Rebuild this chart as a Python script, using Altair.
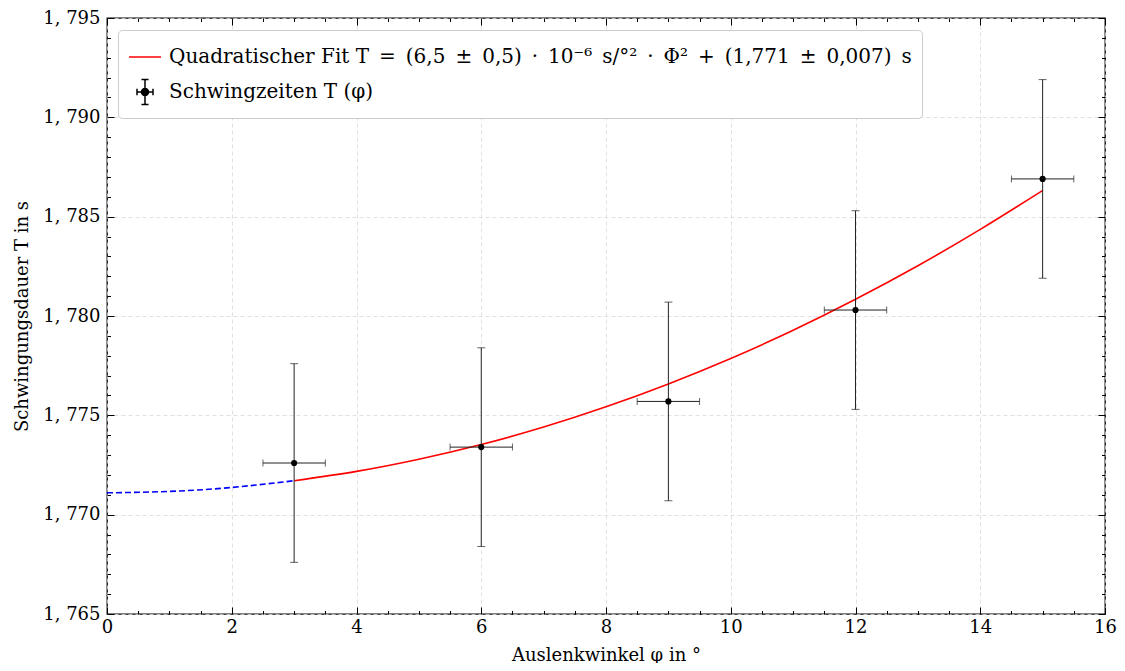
import altair as alt
import pandas as pd

# ---- data ----
phi = [3, 6, 9, 12, 15]
T = [1.7726, 1.7734, 1.7757, 1.7803, 1.7869]
T_err = [0.005, 0.005, 0.005, 0.005, 0.005]
phi_err = [0.5, 0.5, 0.5, 0.5, 0.5]

fit_phi = [0, 1, 2, 3, 4, 5, 6, 7, 8, 9, 10, 11, 12, 13, 14, 15]
fit_T = [1.77110, 1.77117, 1.77137, 1.77171, 1.77218, 1.77279, 1.77353, 1.77441,
         1.77543, 1.77658, 1.77786, 1.77928, 1.78084, 1.78253, 1.78436, 1.78632]

x_major = [0, 2, 4, 6, 8, 10, 12, 14, 16]
x_minor = [0, 0.5, 1, 1.5, 2, 2.5, 3, 3.5, 4, 4.5, 5, 5.5, 6, 6.5, 7, 7.5, 8,
           8.5, 9, 9.5, 10, 10.5, 11, 11.5, 12, 12.5, 13, 13.5, 14, 14.5, 15, 15.5, 16]
y_major = [1.765, 1.770, 1.775, 1.780, 1.785, 1.790, 1.795]
y_minor = [1.765, 1.766, 1.767, 1.768, 1.769, 1.770, 1.771, 1.772, 1.773, 1.774,
           1.775, 1.776, 1.777, 1.778, 1.779, 1.780, 1.781, 1.782, 1.783, 1.784,
           1.785, 1.786, 1.787, 1.788, 1.789, 1.790, 1.791, 1.792, 1.793, 1.794, 1.795]

legend_labels = [
    "Quadratischer Fit T\u2002=\u2002(6,5\u2002±\u20020,5)\u2002·\u200210⁻⁶\u2002s/°²\u2002·\u2002Φ²\u2002+\u2002(1,771\u2002±\u20020,007)\u2002s",
    "Schwingzeiten T (φ)",
]
legend_colors = ["red", "black"]
line_path = "M-1,0L1,0"
err_path = ("M-0.5,0L0.5,0M0,-0.78L0,0.78M-0.5,-0.2L-0.5,0.2M0.5,-0.2L0.5,0.2"
            "M-0.22,-0.78L0.22,-0.78M-0.22,0.78L0.22,0.78"
            "M0.22,0A0.22,0.22,0,1,1,-0.22,0A0.22,0.22,0,1,1,0.22,0Z")

FONT = "DejaVu Serif"
FS = 18
W, H = 998, 596

points = pd.DataFrame({"phi": phi, "T": T, "T_err": T_err, "phi_err": phi_err})
fit = pd.DataFrame({"phi": fit_phi, "T": fit_T})

xscale = alt.Scale(domain=[0, 16], nice=False, zero=False)
yscale = alt.Scale(domain=[1.765, 1.795], nice=False, zero=False)

x_tick_size = {"condition": {"test": "datum.value % 2 == 0", "value": 7}, "value": 3.5}
y_tick_size = {"condition": {"test": "abs(datum.value*200 - round(datum.value*200)) < 0.01", "value": 7}, "value": 3.5}

def tick_axis(orient, values, size, offset):
    return alt.Axis(orient=orient, values=values, offset=offset, domain=False, grid=False,
                    labels=False, ticks=True, tickColor="black", tickWidth=1,
                    tickSize=size, title=None)

X1 = alt.Axis(orient="bottom", values=x_major, domain=False, ticks=False, grid=True,
              gridColor="#d8d8d8", gridDash=[4, 3], gridWidth=0.8,
              labelFont=FONT, labelFontSize=FS, labelColor="black", labelPadding=4,
              labelFlush=False, labelOverlap=False,
              title="Auslenkwinkel φ in °", titleFont=FONT, titleFontSize=FS,
              titleFontWeight="normal", titleColor="black",
              titleBaseline="alphabetic", titleY=46)
Y1 = alt.Axis(orient="left", values=y_major, domain=False, ticks=False, grid=True,
              gridColor="#d8d8d8", gridDash=[4, 3], gridWidth=0.8,
              labelExpr="replace(format(datum.value, '.3f'), '.', ', ')",
              labelFont=FONT, labelFontSize=FS, labelColor="black", labelPadding=7,
              labelFlush=False, labelOverlap=False,
              title="Schwingungsdauer T in s", titleFont=FONT, titleFontSize=FS,
              titleFontWeight="normal", titleColor="black",
              titleBaseline="alphabetic", titleX=-80)

X2 = tick_axis("top", x_minor, x_tick_size, -H)
X3 = tick_axis("bottom", x_minor, x_tick_size, -H)
Y2 = tick_axis("right", y_minor, y_tick_size, -W)
Y3 = tick_axis("left", y_minor, y_tick_size, -W)

blue = alt.Chart(fit).transform_filter("datum.phi <= 3").mark_line(
    color="blue", strokeWidth=1.6, strokeDash=[6, 3], interpolate="natural"
).encode(
    x=alt.X("phi:Q", scale=xscale, axis=X1),
    y=alt.Y("T:Q", scale=yscale, axis=Y1),
)

red = alt.Chart(fit).transform_filter("datum.phi >= 3").mark_line(
    color="red", strokeWidth=1.6, interpolate="natural"
).encode(
    x=alt.X("phi:Q", scale=xscale, axis=X2),
    y=alt.Y("T:Q", scale=yscale, axis=Y2),
)

yerr = alt.Chart(points).transform_calculate(
    lo="datum.T - datum.T_err", hi="datum.T + datum.T_err"
).mark_rule(color="#222222", strokeWidth=1).encode(
    x=alt.X("phi:Q", scale=xscale, axis=X3),
    y=alt.Y("lo:Q", scale=yscale, axis=Y3),
    y2="hi:Q",
)

xerr = alt.Chart(points).transform_calculate(
    xlo="datum.phi - datum.phi_err", xhi="datum.phi + datum.phi_err"
).mark_rule(color="#222222", strokeWidth=1).encode(
    x=alt.X("xlo:Q", scale=xscale, axis=None),
    x2="xhi:Q",
    y=alt.Y("T:Q", scale=yscale, axis=None),
)

ycaps = alt.Chart(points).transform_calculate(
    lo="datum.T - datum.T_err", hi="datum.T + datum.T_err"
).transform_fold(["lo", "hi"], as_=["k", "v"]).mark_tick(
    orient="horizontal", size=8, thickness=1, color="#222222"
).encode(
    x=alt.X("phi:Q", scale=xscale, axis=None),
    y=alt.Y("v:Q", scale=yscale, axis=None),
)

xcaps = alt.Chart(points).transform_calculate(
    xlo="datum.phi - datum.phi_err", xhi="datum.phi + datum.phi_err"
).transform_fold(["xlo", "xhi"], as_=["k", "v"]).mark_tick(
    orient="vertical", size=7, thickness=1, color="#222222"
).encode(
    x=alt.X("v:Q", scale=xscale, axis=None),
    y=alt.Y("T:Q", scale=yscale, axis=None),
)

dots = alt.Chart(points).mark_circle(size=38, color="black", opacity=1).encode(
    x=alt.X("phi:Q", scale=xscale, axis=None),
    y=alt.Y("T:Q", scale=yscale, axis=None),
)

LEG = alt.Legend(title=None, orient="none", legendX=11, legendY=12, direction="vertical",
                 symbolSize=1024, symbolStrokeWidth=1.5, symbolOpacity=1,
                 labelFont=FONT, labelFontSize=20, labelColor="black", labelLimit=1500,
                 labelOffset=7, rowPadding=8, padding=10, strokeColor="#cccccc",
                 fillColor="white", cornerRadius=4)

legend_layer = alt.Chart(pd.DataFrame({"label": legend_labels})).mark_point(
    opacity=0, filled=False, fill="black"
).encode(
    x=alt.value(0), y=alt.value(0),
    color=alt.Color("label:N", scale=alt.Scale(domain=legend_labels, range=legend_colors), legend=LEG),
    shape=alt.Shape("label:N", scale=alt.Scale(domain=legend_labels, range=[line_path, err_path]), legend=LEG),
)

chart = alt.layer(blue, red, yerr, xerr, ycaps, xcaps, dots, legend_layer).resolve_axis(
    x="independent", y="independent"
).properties(
    width=W, height=H,
    padding={"left": 99, "top": 10, "right": 12, "bottom": 49},
    autosize=alt.AutoSizeParams(type="none"),
    background="white",
).configure_view(stroke="black", strokeWidth=1.3)

chart.save("out.html", embed_options={"renderer": "svg", "actions": False})
